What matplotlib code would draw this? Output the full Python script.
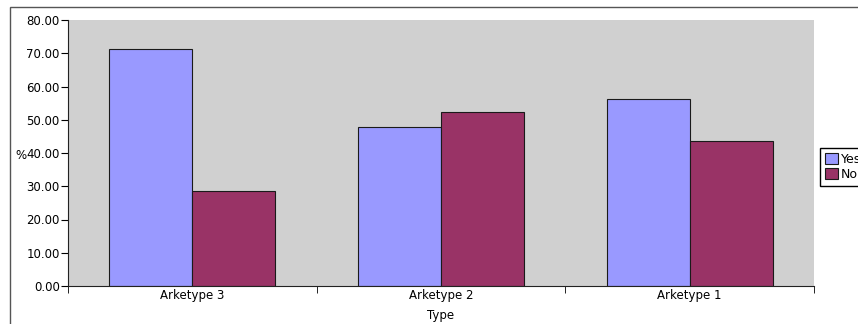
import matplotlib
matplotlib.use("Agg")
import matplotlib.pyplot as plt
import matplotlib.patches as patches
import numpy as np

categories = ["Arketype 3", "Arketype 2", "Arketype 1"]
yes_values = [71.4, 47.8, 56.3]
no_values = [28.6, 52.2, 43.7]
y_ticks = [0, 10, 20, 30, 40, 50, 60, 70, 80]

W, H = 858, 324
plt.rcParams["font.family"] = ["DejaVu Sans"]
plt.rcParams["font.size"] = 8.5

fig = plt.figure(figsize=(W / 100, H / 100), dpi=100)
fig.patch.set_facecolor("white")

# outer frame (runs off the right and bottom edge)
fig.patches.append(patches.Rectangle((10 / W, -0.1), 1.0, 1 - 7 / H + 0.1,
                                     transform=fig.transFigure, fill=False,
                                     edgecolor="#555555", linewidth=1.0))

ax = fig.add_axes([68 / W, (H - 286) / H, 746 / W, 266 / H])
ax.set_facecolor("#d0d0d0")

x = np.arange(len(categories))
w = 1 / 3
ax.bar(x - w / 2, yes_values, w, color="#9999ff", edgecolor="#1a1a1a",
       linewidth=0.8, label="Yes")
ax.bar(x + w / 2, no_values, w, color="#993366", edgecolor="#1a1a1a",
       linewidth=0.8, label="No")

ax.set_xlim(-0.5, len(categories) - 0.5)
ax.set_ylim(0, 80)
ax.set_yticks(y_ticks)
ax.set_yticklabels([f"{v:.2f}" for v in y_ticks])
ax.set_xticks(x)
ax.set_xticklabels(categories)
ax.set_xticks(np.arange(len(categories) + 1) - 0.5, minor=True)
ax.tick_params(axis="x", which="major", length=0, pad=2)
ax.tick_params(axis="x", which="minor", length=5, direction="out")
ax.tick_params(axis="y", length=5, direction="out", pad=1)

for side in ["top", "right"]:
    ax.spines[side].set_visible(False)
for side in ["left", "bottom"]:
    ax.spines[side].set_color("#222222")
    ax.spines[side].set_linewidth(0.8)

ax.set_xlabel("Type", labelpad=5)
ax.set_ylabel("%", rotation=0, ha="right", va="center")
ax.yaxis.set_label_coords(-0.055, 0.49)

fig.legend(loc="upper left", bbox_to_anchor=(820 / W, 1 - 148 / H),
           borderaxespad=0, fancybox=False, edgecolor="black",
           framealpha=1, fontsize=9, handlelength=1.0, handleheight=1.0,
           handletextpad=0.3, borderpad=0.4, labelspacing=0.12)

fig.savefig("out.png", dpi=100)
